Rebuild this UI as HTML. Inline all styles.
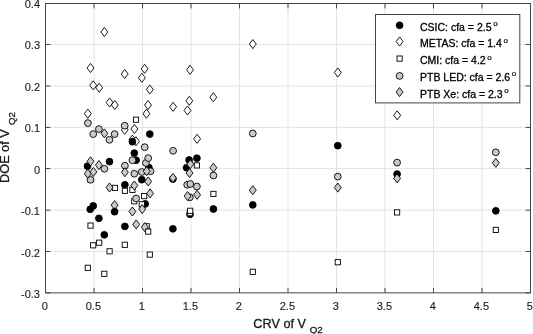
<!DOCTYPE html>
<html lang="en"><head><meta charset="utf-8"><title>DOE of V Q2 versus CRV of V Q2</title>
<style>
html,body{margin:0;padding:0;background:#fff;}
body{width:533px;height:334px;overflow:hidden;}
svg{display:block;}
text{font-family:"Liberation Sans",sans-serif;fill:#1a1a1a;stroke:#1a1a1a;stroke-width:0.3px;}
.tk{font-size:11px;stroke-width:0.12px;}
.lb{font-size:12.7px;}
.sb{font-size:9.7px;}
.lg{font-size:10.5px;fill:#000;stroke:#000;}
.sp{font-size:8px;fill:#000;stroke-width:0.2px;}
</style></head><body>
<svg width="533" height="334" viewBox="0 0 533 334">
<rect x="0" y="0" width="533" height="334" fill="#fff"/>
<path d="M94.00 3.5V292.85M142.50 3.5V292.85M191.00 3.5V292.85M239.50 3.5V292.85M288.00 3.5V292.85M336.50 3.5V292.85M385.00 3.5V292.85M433.50 3.5V292.85M482.00 3.5V292.85M45.5 44.45H530.5M45.5 86.00H530.5M45.5 127.40H530.5M45.5 168.60H530.5M45.5 210.15H530.5M45.5 251.45H530.5" stroke="#e4e4e4" stroke-width="1" fill="none"/>
<path d="M45.50 292.85v-4.9M45.50 3.5v4.9M94.00 292.85v-4.9M94.00 3.5v4.9M142.50 292.85v-4.9M142.50 3.5v4.9M191.00 292.85v-4.9M191.00 3.5v4.9M239.50 292.85v-4.9M239.50 3.5v4.9M288.00 292.85v-4.9M288.00 3.5v4.9M336.50 292.85v-4.9M336.50 3.5v4.9M385.00 292.85v-4.9M385.00 3.5v4.9M433.50 292.85v-4.9M433.50 3.5v4.9M482.00 292.85v-4.9M482.00 3.5v4.9M530.50 292.85v-4.9M530.50 3.5v4.9M45.5 3.50h4.9M530.5 3.50h-4.9M45.5 44.45h4.9M530.5 44.45h-4.9M45.5 86.00h4.9M530.5 86.00h-4.9M45.5 127.40h4.9M530.5 127.40h-4.9M45.5 168.60h4.9M530.5 168.60h-4.9M45.5 210.15h4.9M530.5 210.15h-4.9M45.5 251.45h4.9M530.5 251.45h-4.9M45.5 292.85h4.9M530.5 292.85h-4.9" stroke="#454545" stroke-width="1" fill="none"/>
<rect x="45.5" y="3.5" width="485.0" height="289.35" fill="none" stroke="#454545" stroke-width="1"/>
<text class="tk" x="44.9" y="310.2" text-anchor="middle">0</text>
<text class="tk" x="93.4" y="310.2" text-anchor="middle">0.5</text>
<text class="tk" x="141.9" y="310.2" text-anchor="middle">1</text>
<text class="tk" x="190.4" y="310.2" text-anchor="middle">1.5</text>
<text class="tk" x="238.9" y="310.2" text-anchor="middle">2</text>
<text class="tk" x="287.4" y="310.2" text-anchor="middle">2.5</text>
<text class="tk" x="335.9" y="310.2" text-anchor="middle">3</text>
<text class="tk" x="384.4" y="310.2" text-anchor="middle">3.5</text>
<text class="tk" x="432.9" y="310.2" text-anchor="middle">4</text>
<text class="tk" x="481.4" y="310.2" text-anchor="middle">4.5</text>
<text class="tk" x="529.9" y="310.2" text-anchor="middle">5</text>
<text class="tk" x="40" y="7.5" text-anchor="end">0.4</text>
<text class="tk" x="40" y="49.0" text-anchor="end">0.3</text>
<text class="tk" x="40" y="90.6" text-anchor="end">0.2</text>
<text class="tk" x="40" y="132.1" text-anchor="end">0.1</text>
<text class="tk" x="40" y="173.7" text-anchor="end">0</text>
<text class="tk" x="40" y="215.2" text-anchor="end">-0.1</text>
<text class="tk" x="40" y="256.7" text-anchor="end">-0.2</text>
<text class="tk" x="40" y="298.3" text-anchor="end">-0.3</text>
<text class="lb" x="253.3" y="327.5">CRV of V<tspan class="sb" dx="3.8" dy="5.9">Q2</tspan></text>
<text class="lb" transform="translate(9.0 182.9) rotate(-90)">DOE of V<tspan class="sb" dx="4.4" dy="5.8">Q2</tspan></text>
<g stroke="#000" stroke-width="0.9" stroke-linejoin="miter">
<path d="M104.3 27.45L107.75 32.0L104.3 36.55L100.85 32.0Z" fill="#fff"/>
<path d="M90.5 63.45L93.95 68.0L90.5 72.55L87.05 68.0Z" fill="#fff"/>
<path d="M93.2 80.75L96.65 85.3L93.2 89.85L89.75 85.3Z" fill="#fff"/>
<path d="M99.2 83.25L102.65 87.8L99.2 92.35L95.75 87.8Z" fill="#fff"/>
<path d="M124.7 69.45L128.15 74.0L124.7 78.55L121.25 74.0Z" fill="#fff"/>
<path d="M144.6 64.25L148.05 68.8L144.6 73.35L141.15 68.8Z" fill="#fff"/>
<path d="M141.9 73.25L145.35 77.8L141.9 82.35L138.45 77.8Z" fill="#fff"/>
<path d="M149.8 84.95L153.25 89.5L149.8 94.05L146.35 89.5Z" fill="#fff"/>
<path d="M109.6 97.95L113.05 102.5L109.6 107.05L106.15 102.5Z" fill="#fff"/>
<path d="M114.8 100.45L118.25 105.0L114.8 109.55L111.35 105.0Z" fill="#fff"/>
<path d="M87.8 109.15L91.25 113.7L87.8 118.25L84.35 113.7Z" fill="#fff"/>
<path d="M148.0 100.45L151.45 105.0L148.0 109.55L144.55 105.0Z" fill="#fff"/>
<path d="M146.4 109.15L149.85 113.7L146.4 118.25L142.95 113.7Z" fill="#fff"/>
<path d="M134.4 124.45L137.85 129.0L134.4 133.55L130.95 129.0Z" fill="#fff"/>
<path d="M124.7 125.25L128.15 129.8L124.7 134.35L121.25 129.8Z" fill="#fff"/>
<path d="M132.4 135.15L135.85 139.7L132.4 144.25L128.95 139.7Z" fill="#fff"/>
<path d="M136.0 136.75L139.45 141.3L136.0 145.85L132.55 141.3Z" fill="#fff"/>
<path d="M190.0 65.25L193.45 69.8L190.0 74.35L186.55 69.8Z" fill="#fff"/>
<path d="M213.3 92.75L216.75 97.3L213.3 101.85L209.85 97.3Z" fill="#fff"/>
<path d="M189.3 96.25L192.75 100.8L189.3 105.35L185.85 100.8Z" fill="#fff"/>
<path d="M187.5 105.95L190.95 110.5L187.5 115.05L184.05 110.5Z" fill="#fff"/>
<path d="M173.1 102.25L176.55 106.8L173.1 111.35L169.65 106.8Z" fill="#fff"/>
<path d="M197.1 134.25L200.55 138.8L197.1 143.35L193.65 138.8Z" fill="#fff"/>
<path d="M252.8 39.55L256.25 44.1L252.8 48.65L249.35 44.1Z" fill="#fff"/>
<path d="M337.8 67.95L341.25 72.5L337.8 77.05L334.35 72.5Z" fill="#fff"/>
<path d="M397.2 110.75L400.65 115.3L397.2 119.85L393.75 115.3Z" fill="#fff"/>
<circle cx="149.8" cy="134.1" r="3.4" fill="#000"/>
<circle cx="132.4" cy="141.7" r="3.4" fill="#000"/>
<circle cx="134.3" cy="153.1" r="3.4" fill="#000"/>
<circle cx="136.1" cy="160.2" r="3.4" fill="#000"/>
<circle cx="109.5" cy="161.6" r="3.4" fill="#000"/>
<circle cx="87.5" cy="166.2" r="3.4" fill="#000"/>
<circle cx="148.9" cy="167.6" r="3.4" fill="#000"/>
<circle cx="141.8" cy="179.7" r="3.4" fill="#000"/>
<circle cx="124.9" cy="184.8" r="3.4" fill="#000"/>
<circle cx="145.2" cy="203.9" r="3.4" fill="#000"/>
<circle cx="93.2" cy="205.9" r="3.4" fill="#000"/>
<circle cx="90.2" cy="209.3" r="3.4" fill="#000"/>
<circle cx="98.9" cy="218.3" r="3.4" fill="#000"/>
<circle cx="124.9" cy="226.4" r="3.4" fill="#000"/>
<circle cx="104.3" cy="234.8" r="3.4" fill="#000"/>
<circle cx="196.9" cy="158.2" r="3.4" fill="#000"/>
<circle cx="189.1" cy="160.0" r="3.4" fill="#000"/>
<circle cx="186.6" cy="167.7" r="3.4" fill="#000"/>
<circle cx="172.9" cy="179.0" r="3.4" fill="#000"/>
<circle cx="190.0" cy="214.3" r="3.4" fill="#000"/>
<circle cx="213.4" cy="209.0" r="3.4" fill="#000"/>
<circle cx="172.9" cy="228.8" r="3.4" fill="#000"/>
<circle cx="252.8" cy="204.9" r="3.4" fill="#000"/>
<circle cx="337.8" cy="145.7" r="3.4" fill="#000"/>
<circle cx="397.1" cy="174.1" r="3.4" fill="#000"/>
<circle cx="495.8" cy="210.8" r="3.4" fill="#000"/>
<rect x="133.4" y="117.1" width="5.2" height="5.2" fill="#fff"/>
<rect x="112.4" y="185.3" width="5.2" height="5.2" fill="#fff"/>
<rect x="122.3" y="188.2" width="5.2" height="5.2" fill="#fff"/>
<rect x="129.8" y="187.3" width="5.2" height="5.2" fill="#fff"/>
<rect x="141.6" y="193.5" width="5.2" height="5.2" fill="#fff"/>
<rect x="131.7" y="198.7" width="5.2" height="5.2" fill="#fff"/>
<rect x="139.2" y="201.7" width="5.2" height="5.2" fill="#fff"/>
<rect x="144.1" y="223.7" width="5.2" height="5.2" fill="#fff"/>
<rect x="87.9" y="223.0" width="5.2" height="5.2" fill="#fff"/>
<rect x="122.2" y="242.2" width="5.2" height="5.2" fill="#fff"/>
<rect x="96.6" y="240.1" width="5.2" height="5.2" fill="#fff"/>
<rect x="90.6" y="242.7" width="5.2" height="5.2" fill="#fff"/>
<rect x="107.0" y="248.7" width="5.2" height="5.2" fill="#fff"/>
<rect x="147.2" y="252.0" width="5.2" height="5.2" fill="#fff"/>
<rect x="85.2" y="265.2" width="5.2" height="5.2" fill="#fff"/>
<rect x="101.7" y="271.2" width="5.2" height="5.2" fill="#fff"/>
<rect x="194.3" y="162.8" width="5.2" height="5.2" fill="#fff"/>
<rect x="210.8" y="191.3" width="5.2" height="5.2" fill="#fff"/>
<rect x="187.2" y="210.6" width="5.2" height="5.2" fill="#fff"/>
<rect x="187.6" y="208.2" width="5.2" height="5.2" fill="#fff"/>
<rect x="250.2" y="269.2" width="5.2" height="5.2" fill="#fff"/>
<rect x="335.2" y="259.6" width="5.2" height="5.2" fill="#fff"/>
<rect x="394.5" y="209.8" width="5.2" height="5.2" fill="#fff"/>
<rect x="493.2" y="227.3" width="5.2" height="5.2" fill="#fff"/>
<circle cx="87.9" cy="123.1" r="3.4" fill="#cacaca"/>
<circle cx="93.2" cy="134.1" r="3.4" fill="#cacaca"/>
<circle cx="114.6" cy="134.1" r="3.4" fill="#cacaca"/>
<circle cx="124.7" cy="125.7" r="3.4" fill="#cacaca"/>
<circle cx="109.5" cy="139.8" r="3.4" fill="#cacaca"/>
<circle cx="144.7" cy="147.2" r="3.4" fill="#cacaca"/>
<circle cx="132.4" cy="160.2" r="3.4" fill="#cacaca"/>
<circle cx="145.9" cy="162.9" r="3.4" fill="#cacaca"/>
<circle cx="148.2" cy="158.1" r="3.4" fill="#cacaca"/>
<circle cx="104.4" cy="168.8" r="3.4" fill="#cacaca"/>
<circle cx="124.9" cy="165.7" r="3.4" fill="#cacaca"/>
<circle cx="134.3" cy="173.7" r="3.4" fill="#cacaca"/>
<circle cx="141.8" cy="172.0" r="3.4" fill="#cacaca"/>
<circle cx="150.5" cy="171.3" r="3.4" fill="#cacaca"/>
<circle cx="90.5" cy="179.8" r="3.4" fill="#cacaca"/>
<circle cx="136.1" cy="198.5" r="3.4" fill="#cacaca"/>
<circle cx="173.1" cy="150.8" r="3.4" fill="#cacaca"/>
<circle cx="213.4" cy="175.5" r="3.4" fill="#cacaca"/>
<circle cx="187.2" cy="184.8" r="3.4" fill="#cacaca"/>
<circle cx="190.3" cy="184.0" r="3.4" fill="#cacaca"/>
<circle cx="196.9" cy="186.5" r="3.4" fill="#cacaca"/>
<circle cx="189.8" cy="197.3" r="3.4" fill="#cacaca"/>
<circle cx="252.8" cy="133.5" r="3.4" fill="#cacaca"/>
<circle cx="337.8" cy="176.6" r="3.4" fill="#cacaca"/>
<circle cx="397.1" cy="162.6" r="3.4" fill="#cacaca"/>
<circle cx="495.8" cy="152.3" r="3.4" fill="#cacaca"/>
<path d="M104.4 128.85L107.85 133.4L104.4 137.95L100.95 133.4Z" fill="#cacaca"/>
<path d="M90.5 156.75L93.95 161.3L90.5 165.85L87.05 161.3Z" fill="#cacaca"/>
<path d="M98.9 160.55L102.35 165.1L98.9 169.65L95.45 165.1Z" fill="#cacaca"/>
<path d="M87.8 169.15L91.25 173.7L87.8 178.25L84.35 173.7Z" fill="#cacaca"/>
<path d="M93.4 167.35L96.85 171.9L93.4 176.45L89.95 171.9Z" fill="#cacaca"/>
<path d="M124.9 167.65L128.35 172.2L124.9 176.75L121.45 172.2Z" fill="#cacaca"/>
<path d="M146.7 166.65L150.15 171.2L146.7 175.75L143.25 171.2Z" fill="#cacaca"/>
<path d="M148.2 176.85L151.65 181.4L148.2 185.95L144.75 181.4Z" fill="#cacaca"/>
<path d="M134.3 180.95L137.75 185.5L134.3 190.05L130.85 185.5Z" fill="#cacaca"/>
<path d="M109.5 182.95L112.95 187.5L109.5 192.05L106.05 187.5Z" fill="#cacaca"/>
<path d="M150.1 188.85L153.55 193.4L150.1 197.95L146.65 193.4Z" fill="#cacaca"/>
<path d="M114.6 200.55L118.05 205.1L114.6 209.65L111.15 205.1Z" fill="#cacaca"/>
<path d="M142.2 204.55L145.65 209.1L142.2 213.65L138.75 209.1Z" fill="#cacaca"/>
<path d="M132.4 206.95L135.85 211.5L132.4 216.05L128.95 211.5Z" fill="#cacaca"/>
<path d="M136.2 219.85L139.65 224.4L136.2 228.95L132.75 224.4Z" fill="#cacaca"/>
<path d="M144.8 222.55L148.25 227.1L144.8 231.65L141.35 227.1Z" fill="#cacaca"/>
<path d="M190.3 159.65L193.75 164.2L190.3 168.75L186.85 164.2Z" fill="#cacaca"/>
<path d="M213.4 163.15L216.85 167.7L213.4 172.25L209.95 167.7Z" fill="#cacaca"/>
<path d="M189.5 168.45L192.95 173.0L189.5 177.55L186.05 173.0Z" fill="#cacaca"/>
<path d="M172.9 173.35L176.35 177.9L172.9 182.45L169.45 177.9Z" fill="#cacaca"/>
<path d="M197.1 190.25L200.55 194.8L197.1 199.35L193.65 194.8Z" fill="#cacaca"/>
<path d="M187.6 191.55L191.05 196.1L187.6 200.65L184.15 196.1Z" fill="#cacaca"/>
<path d="M252.8 185.65L256.25 190.2L252.8 194.75L249.35 190.2Z" fill="#cacaca"/>
<path d="M337.8 183.05L341.25 187.6L337.8 192.15L334.35 187.6Z" fill="#cacaca"/>
<path d="M397.1 173.85L400.55 178.4L397.1 182.95L393.65 178.4Z" fill="#cacaca"/>
<path d="M495.8 158.25L499.25 162.8L495.8 167.35L492.35 162.8Z" fill="#cacaca"/>
<circle cx="98.9" cy="129.1" r="3.4" fill="#cacaca"/>
<circle cx="114.6" cy="211.7" r="3.4" fill="#000"/>
<rect x="145.6" y="229.0" width="5.2" height="5.2" fill="#fff"/>
</g>
<rect x="375.5" y="14.5" width="144.3" height="88.4" fill="#fff" stroke="#454545" stroke-width="1"/>
<g stroke="#000" stroke-width="0.9">
<circle cx="399.6" cy="25.3" r="3.4" fill="#000"/>
<path d="M399.6 36.95L403.05 41.5L399.6 46.05L396.15 41.5Z" fill="#fff"/>
<rect x="397.0" y="56.0" width="5.2" height="5.2" fill="#fff"/>
<circle cx="399.6" cy="75.9" r="3.4" fill="#cacaca"/>
<path d="M399.6 87.55L403.05 92.1L399.6 96.65L396.15 92.1Z" fill="#cacaca"/>
</g>
<text class="lg" x="420" y="30.6">CSIC: cfa = 2.5<tspan class="sp" dx="1.7" dy="-4.8">o</tspan></text>
<text class="lg" x="420" y="47.4">METAS: cfa = 1.4<tspan class="sp" dx="1.7" dy="-4.8">o</tspan></text>
<text class="lg" x="420" y="64.3">CMI: cfa = 4.2<tspan class="sp" dx="1.7" dy="-4.8">o</tspan></text>
<text class="lg" x="420" y="81.1">PTB LED: cfa = 2.6<tspan class="sp" dx="1.7" dy="-4.8">o</tspan></text>
<text class="lg" x="420" y="98.0">PTB Xe: cfa = 2.3<tspan class="sp" dx="1.7" dy="-4.8">o</tspan></text>
</svg>
</body></html>
